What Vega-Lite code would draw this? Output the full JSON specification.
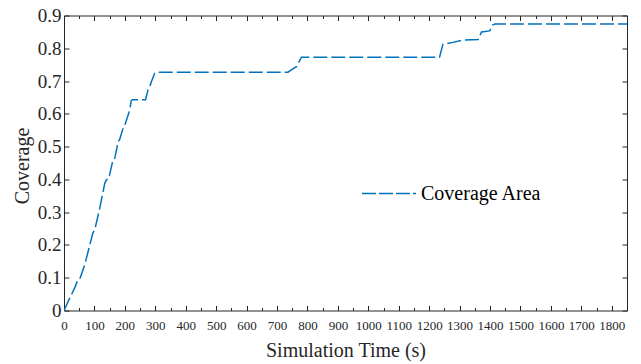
{
  "$schema": "https://vega.github.io/schema/vega-lite/v6.json",
  "width": 563,
  "height": 295,
  "autosize": "none",
  "padding": {"left": 64, "top": 15.5, "right": 14, "bottom": 54},
  "background": "white",
  "config": {
    "view": {"stroke": null},
    "font": "Liberation Serif",
    "axis": {
      "domainColor": "#262626",
      "tickColor": "#262626",
      "labelColor": "#262626",
      "titleColor": "#262626",
      "titleFontWeight": "normal",
      "grid": false,
      "domainWidth": 1,
      "tickWidth": 1
    }
  },
  "data": {
    "values": [
      {"t": 0, "v": 0, "series": "Coverage Area"},
      {"t": 15, "v": 0.03, "series": "Coverage Area"},
      {"t": 35, "v": 0.069, "series": "Coverage Area"},
      {"t": 46, "v": 0.094, "series": "Coverage Area"},
      {"t": 52, "v": 0.097, "series": "Coverage Area"},
      {"t": 68, "v": 0.139, "series": "Coverage Area"},
      {"t": 95, "v": 0.237, "series": "Coverage Area"},
      {"t": 101, "v": 0.246, "series": "Coverage Area"},
      {"t": 117, "v": 0.31, "series": "Coverage Area"},
      {"t": 134, "v": 0.388, "series": "Coverage Area"},
      {"t": 139, "v": 0.398, "series": "Coverage Area"},
      {"t": 147, "v": 0.403, "series": "Coverage Area"},
      {"t": 161, "v": 0.459, "series": "Coverage Area"},
      {"t": 167, "v": 0.465, "series": "Coverage Area"},
      {"t": 178, "v": 0.515, "series": "Coverage Area"},
      {"t": 183, "v": 0.522, "series": "Coverage Area"},
      {"t": 194, "v": 0.556, "series": "Coverage Area"},
      {"t": 200, "v": 0.566, "series": "Coverage Area"},
      {"t": 211, "v": 0.597, "series": "Coverage Area"},
      {"t": 216, "v": 0.612, "series": "Coverage Area"},
      {"t": 221, "v": 0.64, "series": "Coverage Area"},
      {"t": 225, "v": 0.643, "series": "Coverage Area"},
      {"t": 268, "v": 0.643, "series": "Coverage Area"},
      {"t": 276, "v": 0.673, "series": "Coverage Area"},
      {"t": 282, "v": 0.683, "series": "Coverage Area"},
      {"t": 287, "v": 0.698, "series": "Coverage Area"},
      {"t": 298, "v": 0.724, "series": "Coverage Area"},
      {"t": 304, "v": 0.727, "series": "Coverage Area"},
      {"t": 736, "v": 0.727, "series": "Coverage Area"},
      {"t": 747, "v": 0.734, "series": "Coverage Area"},
      {"t": 764, "v": 0.744, "series": "Coverage Area"},
      {"t": 780, "v": 0.773, "series": "Coverage Area"},
      {"t": 1234, "v": 0.773, "series": "Coverage Area"},
      {"t": 1245, "v": 0.812, "series": "Coverage Area"},
      {"t": 1278, "v": 0.818, "series": "Coverage Area"},
      {"t": 1311, "v": 0.825, "series": "Coverage Area"},
      {"t": 1361, "v": 0.827, "series": "Coverage Area"},
      {"t": 1372, "v": 0.85, "series": "Coverage Area"},
      {"t": 1399, "v": 0.853, "series": "Coverage Area"},
      {"t": 1408, "v": 0.871, "series": "Coverage Area"},
      {"t": 1416, "v": 0.874, "series": "Coverage Area"},
      {"t": 1850, "v": 0.874, "series": "Coverage Area"}
    ]
  },
  "resolve": {"axis": {"x": "independent", "y": "independent"}},
  "layer": [
    {
      "mark": {"type": "line", "strokeWidth": 1.5, "strokeDash": [14, 4], "clip": true},
      "encoding": {
        "x": {
          "field": "t", "type": "quantitative",
          "scale": {"domain": [0, 1850], "nice": false, "zero": false},
          "axis": {
            "orient": "bottom",
            "title": "Simulation Time (s)",
            "values": [0,50,100,150,200,250,300,350,400,450,500,550,600,650,700,750,800,850,900,950,1000,1050,1100,1150,1200,1250,1300,1350,1400,1450,1500,1550,1600,1650,1700,1750,1800],
            "format": "d",
            "labelExpr": "datum.value % 100 === 0 ? datum.label : ''",
            "labelOverlap": false,
            "labelFont": "Liberation Serif",
            "labelFontSize": 13,
            "labelPadding": 13.5,
            "labelFlush": false,
            "tickSize": {"condition": {"test": "datum.value % 100 === 0", "value": -5}, "value": -3},
            "titleFont": "Liberation Serif",
            "titleFontSize": 20,
            "titleY": 46,
            "titleBaseline": "alphabetic"
          }
        },
        "y": {
          "field": "v", "type": "quantitative",
          "scale": {"domain": [0, 0.9], "nice": false},
          "axis": {
            "orient": "left",
            "title": "Coverage",
            "values": [0,0.1,0.2,0.3,0.4,0.5,0.6,0.7,0.8,0.9],
            "format": ".1~f",
            "labelFont": "Liberation Serif",
            "labelFontSize": 19,
            "labelPadding": 8,
            "labelOverlap": false,
            "labelFlush": false,
            "tickSize": -5,
            "titleFont": "Liberation Serif",
            "titleFontSize": 20,
            "titleAngle": -90,
            "titleX": -36,
            "titleY": 150,
            "titleBaseline": "alphabetic"
          }
        },
        "color": {
          "field": "series", "type": "nominal",
          "scale": {"range": ["#0072BD"]},
          "legend": {
            "orient": "none",
            "legendX": 297,
            "legendY": 150,
            "title": null,
            "padding": 0,
            "symbolType": "stroke",
            "symbolSize": 2916,
            "symbolStrokeWidth": 1.5,
            "symbolDash": [14, 3],
            "labelFont": "Liberation Serif",
            "labelFontSize": 20,
            "labelColor": "#000000",
            "labelOffset": 4
          }
        }
      }
    },
    {
      "mark": {"type": "line", "opacity": 0},
      "encoding": {
        "x": {
          "field": "t", "type": "quantitative",
          "scale": {"domain": [0, 1850], "nice": false, "zero": false},
          "axis": {
            "orient": "top",
            "title": null,
            "labels": false,
            "values": [0,50,100,150,200,250,300,350,400,450,500,550,600,650,700,750,800,850,900,950,1000,1050,1100,1150,1200,1250,1300,1350,1400,1450,1500,1550,1600,1650,1700,1750,1800],
            "tickSize": {"condition": {"test": "datum.value % 100 === 0", "value": -5}, "value": -3}
          }
        },
        "y": {
          "field": "v", "type": "quantitative",
          "scale": {"domain": [0, 0.9], "nice": false},
          "axis": {
            "orient": "right",
            "title": null,
            "labels": false,
            "values": [0,0.1,0.2,0.3,0.4,0.5,0.6,0.7,0.8,0.9],
            "tickSize": -5
          }
        }
      }
    }
  ]
}
